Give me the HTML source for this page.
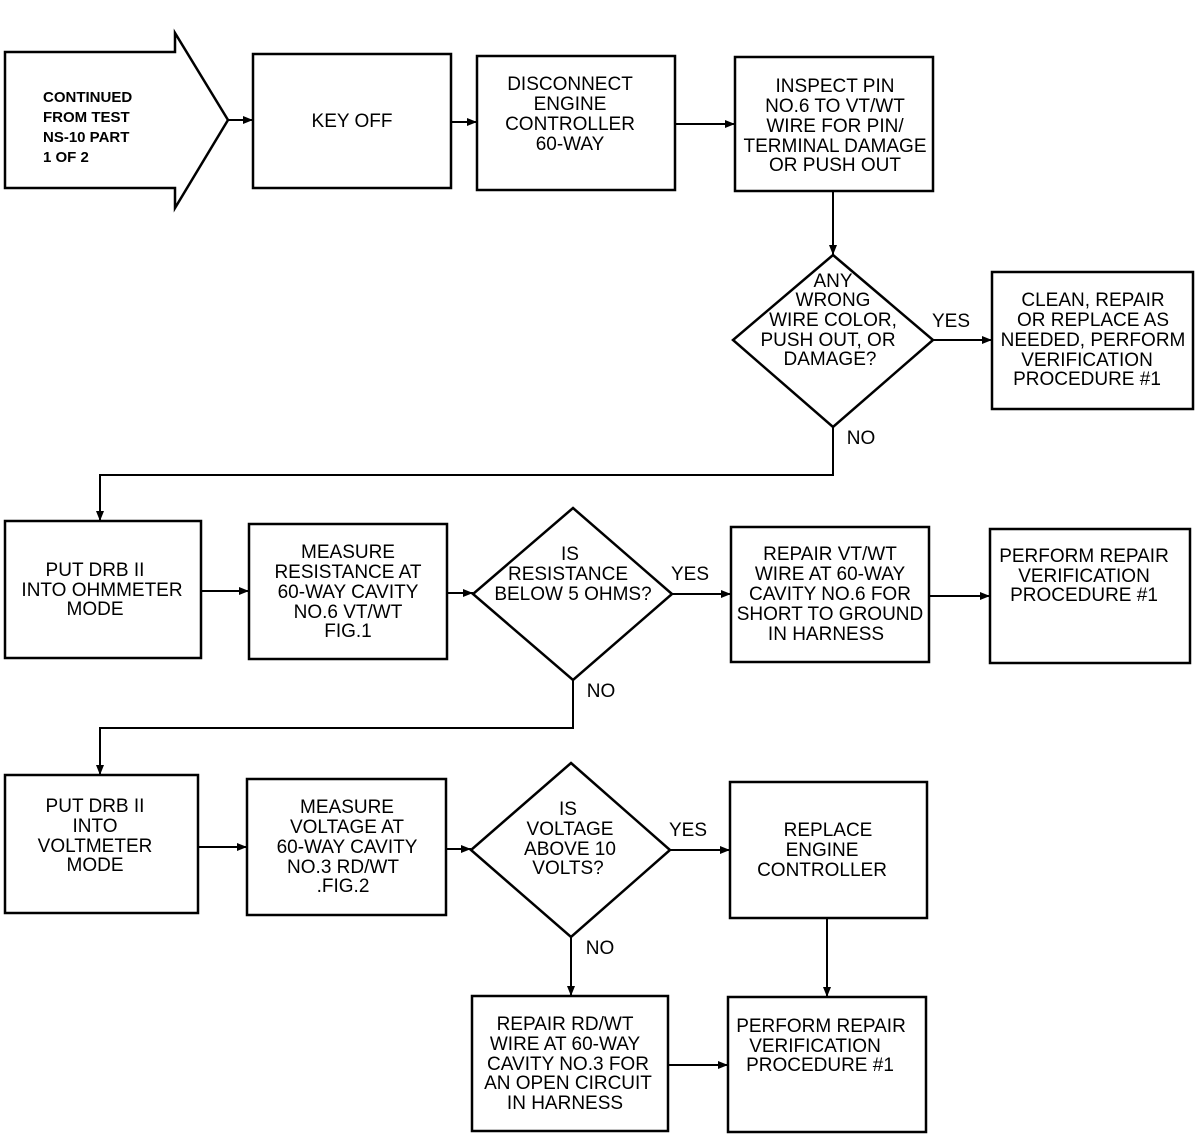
<!DOCTYPE html>
<html><head><style>
body{margin:0;background:#fff}
svg text{font-family:"Liberation Sans Narrow","Liberation Sans",sans-serif;font-size:19px;fill:#000;text-anchor:middle}
.b{font-family:"Liberation Sans",sans-serif;font-weight:bold;font-size:15px;text-anchor:start}
</style></head><body>
<svg width="1200" height="1136" viewBox="0 0 1200 1136" xmlns="http://www.w3.org/2000/svg">
<defs><marker id="a" markerWidth="10" markerHeight="8" refX="10" refY="4" orient="auto" markerUnits="userSpaceOnUse"><path d="M0,0 L10,4 L0,8 Z" fill="#000"/></marker></defs>
<g fill="none" stroke="#000" stroke-width="2.5">
<path d="M5,52 H175 V33 L228,120 L175,208 V188 H5 Z"/>
<rect x="253" y="54" width="198" height="134"/>
<rect x="477" y="56" width="198" height="134"/>
<rect x="735" y="57" width="198" height="134"/>
<path d="M833,255 L933,340 L833,427 L733,340 Z"/>
<rect x="992" y="272" width="201" height="137"/>
<rect x="5" y="521" width="196" height="137"/>
<rect x="249" y="524" width="198" height="135"/>
<path d="M573,508 L672,594 L573,680 L473,594 Z"/>
<rect x="731" y="527" width="198" height="135"/>
<rect x="990" y="529" width="200" height="134"/>
<rect x="5" y="775" width="193" height="138"/>
<rect x="247" y="779" width="199" height="136"/>
<path d="M571,763 L670,850 L571,937 L471,850 Z"/>
<rect x="730" y="782" width="197" height="136"/>
<rect x="472" y="996" width="196" height="135"/>
<rect x="728" y="997" width="198" height="135"/>
</g>
<g stroke="#000" stroke-width="2" fill="none" marker-end="url(#a)">
<path d="M228,120 H253"/>
<path d="M451,122 H477"/>
<path d="M675,124 H735"/>
<path d="M833,191 V255"/>
<path d="M933,340 H992"/>
<path d="M833,427 V475 H100 V521"/>
<path d="M201,591 H249"/>
<path d="M447,593 H473"/>
<path d="M672,594 H731"/>
<path d="M929,596 H990"/>
<path d="M573,680 V728 H100 V775"/>
<path d="M198,847 H247"/>
<path d="M446,849 H471"/>
<path d="M670,850 H730"/>
<path d="M571,937 V996"/>
<path d="M668,1065 H728"/>
<path d="M827,918 V997"/>
</g>
<text class="b" x="43" y="102">CONTINUED</text>
<text class="b" x="43" y="122">FROM TEST</text>
<text class="b" x="43" y="142">NS-10 PART</text>
<text class="b" x="43" y="162">1 OF 2</text>
<text x="352" y="127">KEY OFF</text>
<text x="570" y="90">DISCONNECT</text><text x="570" y="110">ENGINE</text><text x="570" y="130">CONTROLLER</text><text x="570" y="150">60-WAY</text>
<text x="835" y="92">INSPECT PIN</text><text x="835" y="112">NO.6 TO VT/WT</text><text x="835" y="132">WIRE FOR PIN/</text><text x="835" y="152">TERMINAL DAMAGE</text><text x="835" y="171">OR PUSH OUT</text>
<text x="833" y="287">ANY</text><text x="833" y="306">WRONG</text><text x="833" y="326">WIRE COLOR,</text><text x="828" y="346">PUSH OUT, OR</text><text x="830" y="365">DAMAGE?</text>
<text x="951" y="327">YES</text><text x="861" y="444">NO</text>
<text x="1093" y="306">CLEAN, REPAIR</text><text x="1093" y="326">OR REPLACE AS</text><text x="1093" y="346">NEEDED, PERFORM</text><text x="1087" y="366">VERIFICATION</text><text x="1087" y="385">PROCEDURE #1</text>
<text x="95" y="576">PUT DRB II</text><text x="102" y="596">INTO OHMMETER</text><text x="95" y="615">MODE</text>
<text x="348" y="558">MEASURE</text><text x="348" y="578">RESISTANCE AT</text><text x="348" y="598">60-WAY CAVITY</text><text x="348" y="618">NO.6 VT/WT</text><text x="348" y="637">FIG.1</text>
<text x="570" y="560">IS</text><text x="568" y="580">RESISTANCE</text><text x="573" y="600">BELOW 5 OHMS?</text>
<text x="690" y="580">YES</text><text x="601" y="697">NO</text>
<text x="830" y="560">REPAIR VT/WT</text><text x="830" y="580">WIRE AT 60-WAY</text><text x="830" y="600">CAVITY NO.6 FOR</text><text x="830" y="620">SHORT TO GROUND</text><text x="826" y="640">IN HARNESS</text>
<text x="1084" y="562">PERFORM REPAIR</text><text x="1084" y="582">VERIFICATION</text><text x="1084" y="601">PROCEDURE #1</text>
<text x="95" y="812">PUT DRB II</text><text x="95" y="832">INTO</text><text x="95" y="852">VOLTMETER</text><text x="95" y="871">MODE</text>
<text x="347" y="813">MEASURE</text><text x="347" y="833">VOLTAGE AT</text><text x="347" y="853">60-WAY CAVITY</text><text x="343" y="873">NO.3 RD/WT</text><text x="343" y="892">.FIG.2</text>
<text x="568" y="815">IS</text><text x="570" y="835">VOLTAGE</text><text x="570" y="855">ABOVE 10</text><text x="568" y="874">VOLTS?</text>
<text x="688" y="836">YES</text><text x="600" y="954">NO</text>
<text x="828" y="836">REPLACE</text><text x="822" y="856">ENGINE</text><text x="822" y="876">CONTROLLER</text>
<text x="565" y="1030">REPAIR RD/WT</text><text x="565" y="1050">WIRE AT 60-WAY</text><text x="568" y="1070">CAVITY NO.3 FOR</text><text x="568" y="1089">AN OPEN CIRCUIT</text><text x="565" y="1109">IN HARNESS</text>
<text x="821" y="1032">PERFORM REPAIR</text><text x="815" y="1052">VERIFICATION</text><text x="820" y="1071">PROCEDURE #1</text>
</svg>
</body></html>
